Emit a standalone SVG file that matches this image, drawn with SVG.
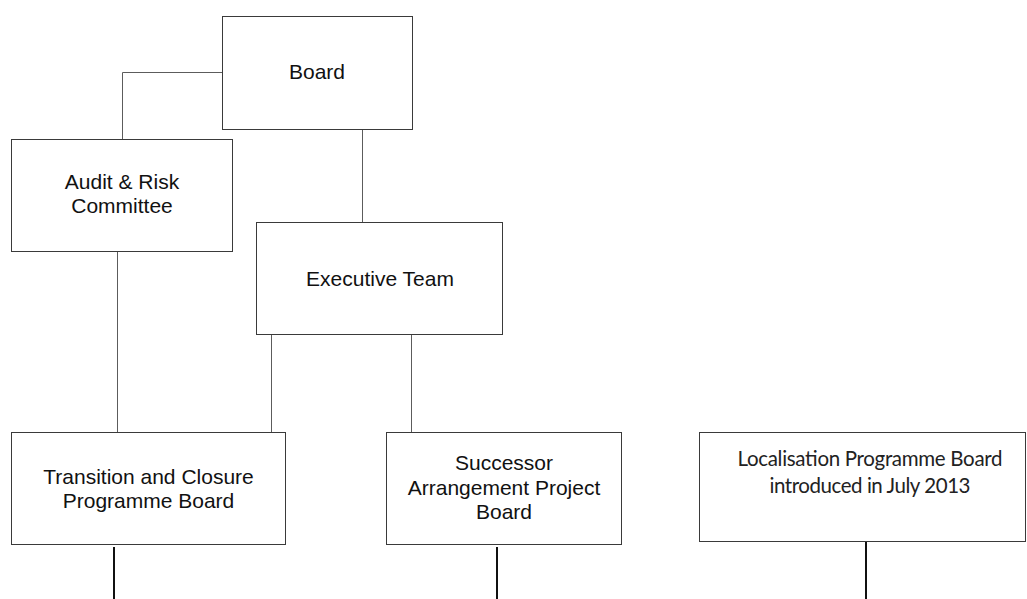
<svg xmlns="http://www.w3.org/2000/svg" width="1027" height="599" viewBox="0 0 1027 599">
  <style>
    .box { fill: #ffffff; stroke: #3a3a3a; stroke-width: 1; }
    .lbl { font-family: "Liberation Sans", Arial, sans-serif; font-size: 21px; fill: #111111; text-anchor: middle; }
    .lbl2 { font-family: Lato, "Open Sans", sans-serif; font-size: 20.5px; fill: #222222; text-anchor: middle; }
    .link { fill: none; stroke: #5c5c5c; stroke-width: 1; }
    .stub { fill: none; stroke: #111111; stroke-width: 2; }
  </style>
  <rect width="1027" height="599" fill="#ffffff"/>

  <!-- reporting lines -->
  <g id="connectors">
    <polyline class="link" points="222.5,72.5 122.5,72.5 122.5,139"/>
    <line class="link" x1="362.5" y1="129" x2="362.5" y2="222"/>
    <line class="link" x1="117.5" y1="252" x2="117.5" y2="432"/>
    <line class="link" x1="271.5" y1="335" x2="271.5" y2="432"/>
    <line class="link" x1="411.5" y1="335" x2="411.5" y2="432"/>
    <line class="stub" x1="114" y1="547" x2="114" y2="599"/>
    <line class="stub" x1="497" y1="547" x2="497" y2="599"/>
    <line class="stub" x1="866" y1="542" x2="866" y2="599"/>
  </g>

  <g id="board">
    <rect class="box" x="222.5" y="16.5" width="190" height="113"/>
    <text class="lbl" x="317" y="79">Board</text>
  </g>

  <g id="audit-risk">
    <rect class="box" x="11.5" y="139.5" width="221" height="112"/>
    <text class="lbl" x="122" y="188.5">Audit &amp; Risk</text>
    <text class="lbl" x="122" y="213">Committee</text>
  </g>

  <g id="executive-team">
    <rect class="box" x="256.5" y="222.5" width="246" height="112"/>
    <text class="lbl" x="380" y="285.5">Executive Team</text>
  </g>

  <g id="transition-closure">
    <rect class="box" x="11.5" y="432.5" width="274" height="112"/>
    <text class="lbl" x="148.5" y="483.5">Transition and Closure</text>
    <text class="lbl" x="148.5" y="507.5">Programme Board</text>
  </g>

  <g id="successor">
    <rect class="box" x="386.5" y="432.5" width="235" height="112"/>
    <text class="lbl" x="504" y="470">Successor</text>
    <text class="lbl" x="504" y="494.5">Arrangement Project</text>
    <text class="lbl" x="504" y="519">Board</text>
  </g>

  <g id="localisation">
    <rect class="box" x="699.5" y="432.5" width="326" height="109"/>
    <text class="lbl2" x="870" y="465.5" textLength="265" lengthAdjust="spacing">Localisation Programme Board</text>
    <text class="lbl2" x="870" y="493" textLength="201" lengthAdjust="spacing">introduced in July 2013</text>
  </g>
</svg>
